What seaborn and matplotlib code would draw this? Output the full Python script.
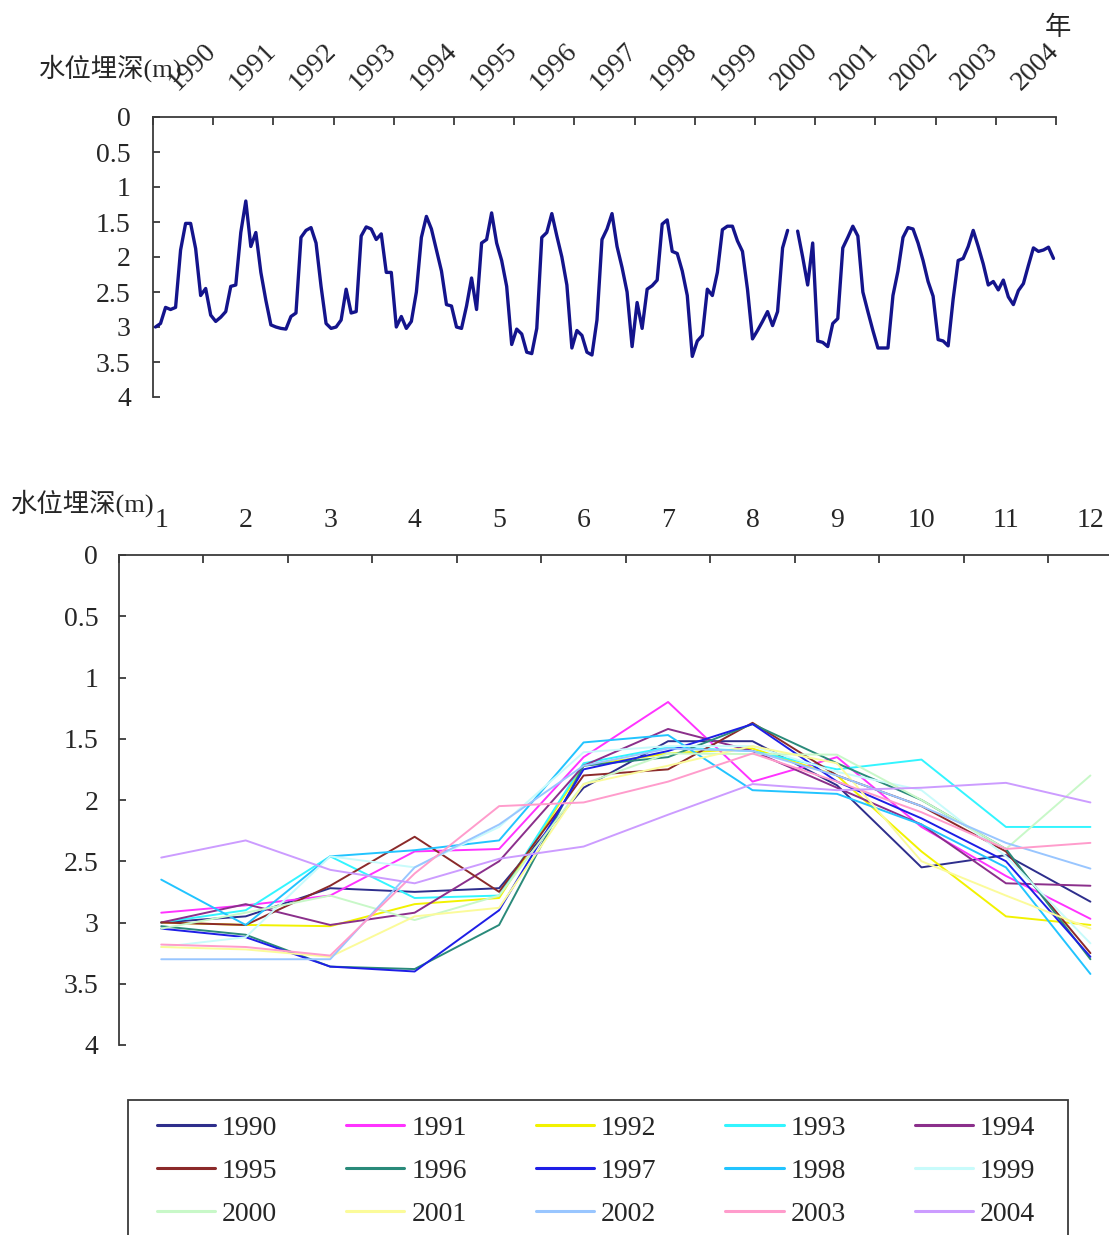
import numpy as np
import pandas as pd
import matplotlib
matplotlib.use("Agg")
import matplotlib.pyplot as plt
from matplotlib.patches import Rectangle
import seaborn as sns

# ---------------- data ----------------
years = [1990, 1991, 1992, 1993, 1994, 1995, 1996, 1997, 1998, 1999,
         2000, 2001, 2002, 2003, 2004]
months = [1, 2, 3, 4, 5, 6, 7, 8, 9, 10, 11, 12]
nan = np.nan

depth_1990 = [3.00, 2.95, 2.72, 2.75, 2.72, 1.90, 1.52, 1.52, 1.88, 2.55, 2.45, 2.83]
depth_1991 = [2.92, 2.86, 2.78, 2.42, 2.40, 1.65, 1.20, 1.85, 1.65, 2.22, 2.62, 2.97]
depth_1992 = [3.00, 3.02, 3.03, 2.85, 2.80, 1.72, 1.62, 1.58, 1.80, 2.42, 2.95, 3.02]
depth_1993 = [3.00, 2.90, 2.46, 2.80, 2.78, 1.70, 1.57, 1.60, 1.75, 1.67, 2.22, 2.22]
depth_1994 = [3.00, 2.85, 3.02, 2.92, 2.50, 1.72, 1.42, 1.60, 1.90, 2.20, 2.68, 2.70]
depth_1995 = [3.00, 3.02, 2.70, 2.30, 2.75, 1.80, 1.75, 1.37, 1.80, 2.05, 2.42, 3.25]
depth_1996 = [3.03, 3.10, 3.36, 3.38, 3.02, 1.72, 1.65, 1.38, 1.70, 2.00, 2.40, 3.30]
depth_1997 = [3.05, 3.12, 3.36, 3.40, 2.90, 1.75, 1.60, 1.38, 1.85, 2.15, 2.50, 3.28]
depth_1998 = [2.65, 3.02, 2.46, 2.41, 2.33, 1.53, 1.47, 1.92, 1.95, 2.20, 2.55, 3.42]
depth_1999 = [3.20, 3.12, 2.46, 2.55, 2.22, 1.61, 1.56, 1.56, 1.77, 1.92, 2.46, 3.17]
depth_2000 = [3.05, 2.92, 2.78, 2.98, 2.78, 1.87, 1.62, nan, 1.63, 2.00, 2.40, 1.80]
depth_2001 = [3.20, 3.22, 3.28, 2.95, 2.88, 1.87, 1.72, 1.56, 1.70, 2.50, 2.78, 3.05]
depth_2002 = [3.30, 3.30, 3.30, 2.55, 2.20, 1.72, 1.58, 1.60, 1.80, 2.05, 2.35, 2.56]
depth_2003 = [3.18, 3.20, 3.27, 2.60, 2.05, 2.02, 1.85, 1.62, 1.85, 2.10, 2.40, 2.35]
depth_2004 = [2.47, 2.33, 2.57, 2.68, 2.48, 2.38, 2.12, 1.87, 1.92, 1.90, 1.86, 2.02]

year_values = [depth_1990, depth_1991, depth_1992, depth_1993, depth_1994,
               depth_1995, depth_1996, depth_1997, depth_1998, depth_1999,
               depth_2000, depth_2001, depth_2002, depth_2003, depth_2004]

year_colors = ['#2e2e8c', '#ff33ff', '#f2f200', '#33f5ff', '#8b2f8b',
               '#8b2a2a', '#2a8a7a', '#1e1ee6', '#22c4ff', '#c8fbfb',
               '#c8f8c8', '#fbfb9a', '#99c6ff', '#ff9ccc', '#cc9cff']

depth_ticks = [0, 0.5, 1, 1.5, 2, 2.5, 3, 3.5, 4]
depth_labels = ['0', '0.5', '1', '1.5', '2', '2.5', '3', '3.5', '4']
y_label = '水位埋深(m)'
year_unit = '年'

# ---------------- style ----------------
sns.set_style('white')
plt.rcParams['font.family'] = ['Liberation Serif', 'Noto Sans CJK SC', 'DejaVu Sans']
plt.rcParams['axes.unicode_minus'] = False

W, H = 1109, 1235
fig = plt.figure(figsize=(W / 100, H / 100), dpi=100)

def fx(px):
    return px / W

def fy(py):
    return 1 - py / H

spine_col = '#3a3a3a'
FS = 20

ax1 = fig.add_axes([fx(153), fy(397), fx(1056) - fx(153), fy(117) - fy(397)])
ax2 = fig.add_axes([fx(119), fy(1045), fx(1109) - fx(119), fy(555) - fy(1045)])

# ---------------- top: time series ----------------
rows = []
seg = 0
for yr, vals in zip(years, year_values):
    for m, v in zip(months, vals):
        if np.isnan(v):
            seg += 1
            continue
        rows.append((yr + (m - 0.5) / 12.0, v, seg))
top_df = pd.DataFrame(rows, columns=['t', 'depth', 'seg'])
sns.lineplot(data=top_df, x='t', y='depth', units='seg', estimator=None,
             color='#14148c', lw=2.4, ax=ax1, legend=False)

ax1.set_xlim(1990, 2005)
ax1.set_ylim(4, 0)
ax1.set_xlabel('')
ax1.set_ylabel('')
ax1.xaxis.tick_top()
ax1.set_xticks(years + [2005])
ax1.set_xticklabels([])
ax1.set_xticks([y + 0.33 for y in years], minor=True)
ax1.set_xticklabels([str(y) for y in years], minor=True)
ax1.tick_params(axis='x', which='major', direction='in', length=6, width=1.3,
                color=spine_col, top=True, bottom=False,
                labeltop=False, labelbottom=False)
ax1.tick_params(axis='x', which='minor', length=0, top=True, bottom=False,
                labeltop=True, labelbottom=False, pad=22, labelsize=FS)
for lab in ax1.get_xticklabels(minor=True):
    lab.set_rotation(45)
    lab.set_rotation_mode('anchor')
    lab.set_ha('left')
    lab.set_va('center')
ax1.set_yticks(depth_ticks)
ax1.set_yticklabels(depth_labels)
ax1.tick_params(axis='y', direction='in', length=5, width=1.3, color=spine_col,
                left=True, pad=16, labelsize=FS)

# ---------------- bottom: monthly curves ----------------
rows2 = []
for yr, vals in zip(years, year_values):
    for m, v in zip(months, vals):
        rows2.append((str(yr), m, v))
mon_df = pd.DataFrame(rows2, columns=['year', 'month', 'depth'])
palette = {str(y): c for y, c in zip(years, year_colors)}
sns.lineplot(data=mon_df, x='month', y='depth', hue='year',
             hue_order=[str(y) for y in years], palette=palette,
             lw=1.4, ax=ax2)

ax2.set_xlim(0.5, 12.22)
ax2.set_ylim(4, 0)
ax2.set_xlabel('')
ax2.set_ylabel('')
ax2.xaxis.tick_top()
ax2.set_xticks([m - 0.5 for m in months])
ax2.set_xticklabels([])
ax2.set_xticks(months, minor=True)
ax2.set_xticklabels([str(m) for m in months], minor=True)
ax2.tick_params(axis='x', which='major', direction='in', length=6, width=1.3,
                color=spine_col, top=True, bottom=False,
                labeltop=False, labelbottom=False)
ax2.tick_params(axis='x', which='minor', length=0, top=True, bottom=False,
                labeltop=True, labelbottom=False, pad=16, labelsize=FS)
ax2.set_yticks(depth_ticks)
ax2.set_yticklabels(depth_labels)
ax2.tick_params(axis='y', direction='in', length=5, width=1.3, color=spine_col,
                left=True, pad=15, labelsize=FS)

for ax in (ax1, ax2):
    ax.grid(False)
    ax.spines['right'].set_visible(False)
    ax.spines['bottom'].set_visible(False)
    for s in ('left', 'top'):
        ax.spines[s].set_color(spine_col)
        ax.spines[s].set_linewidth(1.3)

# ---------------- legend ----------------
handles, labels = ax2.get_legend_handles_labels()
if ax2.get_legend() is not None:
    ax2.get_legend().remove()
order = [r * 5 + c for c in range(5) for r in range(3)]
leg = fig.legend([handles[i] for i in order], [labels[i] for i in order],
                 ncol=5, loc='upper left', mode='expand',
                 bbox_to_anchor=(fx(144), fy(1103), fx(1048) - fx(144), 0),
                 bbox_transform=fig.transFigure, borderaxespad=0,
                 fontsize=FS, handlelength=2.1, handletextpad=0.25,
                 labelspacing=0.63, borderpad=0.45, frameon=False)
for ln in leg.get_lines():
    ln.set_linewidth(2.2)
frame = Rectangle((fx(128), fy(1250)), fx(1068) - fx(128), fy(1100) - fy(1250),
                  transform=fig.transFigure, fill=False, edgecolor=spine_col,
                  linewidth=1.3, clip_on=False)
fig.add_artist(frame)

# ---------------- texts ----------------
fig.text(fx(38), fy(68), y_label, fontsize=19, ha='left', va='center')
fig.text(fx(10), fy(503), y_label, fontsize=19, ha='left', va='center')
fig.text(fx(1058), fy(28), year_unit, fontsize=19, ha='center', va='center')

fig.savefig('out.png', dpi=100)
